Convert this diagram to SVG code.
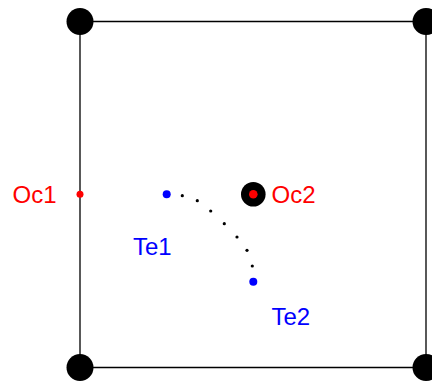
<svg xmlns="http://www.w3.org/2000/svg" width="432" height="381" viewBox="0 0 432 381">
<style>
.lbl{font-family:"Liberation Sans",Arial,sans-serif;font-size:24px}
.red{fill:#ff0000}
.blue{fill:#0000ff}
.edge{stroke:#000;stroke-width:1.3;fill:none}
</style>
<rect width="432" height="381" fill="#fff"/>
<g id="connectors">
<path class="edge" d="M80,21.5H426V367.5H80Z"/>
<g fill="#000">
<circle cx="182.3" cy="195.7" r="1.6"/>
<circle cx="197.3" cy="200.7" r="1.6"/>
<circle cx="210.7" cy="211" r="1.6"/>
<circle cx="224.3" cy="223.7" r="1.6"/>
<circle cx="237" cy="237" r="1.6"/>
<circle cx="247" cy="250.3" r="1.6"/>
<circle cx="252.3" cy="266" r="1.6"/>
</g>
</g>
<g id="corner-tl"><circle cx="80" cy="21.5" r="13.5" fill="#000"/></g>
<g id="corner-tr"><circle cx="426" cy="21.5" r="13.5" fill="#000"/></g>
<g id="corner-bl"><circle cx="80" cy="367.5" r="13.5" fill="#000"/></g>
<g id="corner-br"><circle cx="426" cy="367.5" r="13.5" fill="#000"/></g>
<g id="Oc1"><circle cx="80" cy="194.3" r="3.5" class="red"/><text class="lbl red" x="12.5" y="203">Oc1</text></g>
<g id="Te1"><circle cx="166.7" cy="194.3" r="4" class="blue"/><text class="lbl blue" x="133" y="255">Te1</text></g>
<g id="Oc2"><circle cx="253.3" cy="194.3" r="12.3" fill="#000"/><circle cx="253.3" cy="194.3" r="4.3" class="red"/><text class="lbl red" x="271.5" y="203">Oc2</text></g>
<g id="Te2"><circle cx="253.3" cy="281.7" r="4" class="blue"/><text class="lbl blue" x="271.5" y="325">Te2</text></g>
</svg>
